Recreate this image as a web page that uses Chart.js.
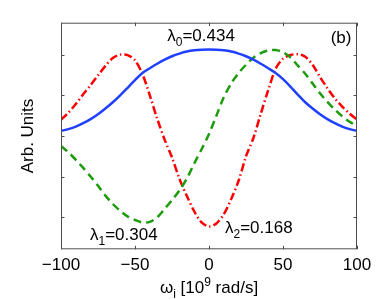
<!DOCTYPE html>
<html>
<head>
<meta charset="utf-8">
<script src="https://cdn.jsdelivr.net/npm/chart.js@4.4.1/dist/chart.umd.min.js"></script>
<style>
  html, body { margin: 0; padding: 0; background: #fff; }
  #wrap { width: 382px; height: 300px; }
</style>
</head>
<body>
<div id="wrap"><canvas id="chart" width="382" height="300"></canvas></div>
<script>
// ==========================
// Data
// ==========================
const omega = [-100, -95, -90, -85, -80, -75, -70, -65, -60, -55, -50, -45, -40, -35, -30, -25, -20, -15, -10, -5,
  0, 5, 10, 15, 20, 25, 30, 35, 40, 45, 50, 55, 60, 65, 70, 75, 80, 85, 90, 95, 100];

// mode 0 (blue, solid)
const mode0 = [0.025, 0.034, 0.046, 0.063, 0.083, 0.107, 0.135, 0.166, 0.2, 0.237, 0.275, 0.31, 0.333, 0.355, 0.375, 0.392, 0.405, 0.415, 0.421, 0.424,
  0.425, 0.424, 0.421, 0.415, 0.405, 0.392, 0.375, 0.355, 0.333, 0.31, 0.28, 0.243, 0.203, 0.166, 0.135, 0.107, 0.083, 0.063, 0.046, 0.034, 0.025];

// mode 1 (green, dashed)
const mode1 = [-0.049, -0.08, -0.117, -0.157, -0.199, -0.245, -0.293, -0.334, -0.368, -0.395, -0.413, -0.425, -0.422, -0.4, -0.358, -0.315, -0.268, -0.21, -0.135, -0.065,
  0.01, 0.1, 0.19, 0.258, 0.31, 0.35, 0.385, 0.408, 0.42, 0.423, 0.412, 0.387, 0.346, 0.306, 0.258, 0.21, 0.168, 0.13, 0.097, 0.07, 0.049];

// mode 2 (red, dash-dot)
const mode2 = [0.08, 0.115, 0.157, 0.205, 0.25, 0.298, 0.345, 0.383, 0.4, 0.398, 0.372, 0.305, 0.2, 0.085, -0.018, -0.105, -0.21, -0.294, -0.37, -0.425,
  -0.445, -0.43, -0.385, -0.31, -0.22, -0.1, -0.01, 0.11, 0.225, 0.33, 0.38, 0.398, 0.402, 0.39, 0.35, 0.29, 0.235, 0.185, 0.145, 0.11, 0.08];

const xTicks = [-100, -50, 0, 50, 100];
const yTicks = [-0.4, -0.2, 0, 0.2, 0.4];

const FONT = "'Liberation Sans', Arial, Helvetica, sans-serif";

function toPoints(ys) {
  return omega.map((x, i) => ({ x: x, y: ys[i] }));
}

// ==========================
// Helper: text with sub/superscript parts
// parts: [text, 'n' | 'sub' | 'sup']
// ==========================
function drawRich(ctx, parts, x, y, size, align) {
  const small = Math.round(size * 0.68);
  let total = 0;
  parts.forEach(p => {
    ctx.font = (p[1] === 'n' ? size : small) + 'px ' + FONT;
    total += ctx.measureText(p[0]).width;
  });
  let cx = align === 'center' ? x - total / 2 : x;
  ctx.textAlign = 'left';
  ctx.textBaseline = 'alphabetic';
  parts.forEach(p => {
    let dy = 0;
    if (p[1] === 'sub') dy = size * 0.3;
    if (p[1] === 'sup') dy = -size * 0.42;
    ctx.font = (p[1] === 'n' ? size : small) + 'px ' + FONT;
    ctx.fillText(p[0], cx, y + dy);
    cx += ctx.measureText(p[0]).width;
  });
}

// ==========================
// Plugin: box, inward ticks, labels
// ==========================
const framePlugin = {
  id: 'frame',
  afterDraw(chart) {
    const ctx = chart.ctx;
    const xs = chart.scales.x;
    const ys = chart.scales.y;
    const a = chart.chartArea;
    const tl = 3.5;
    ctx.save();
    ctx.strokeStyle = '#4d4d4d';
    ctx.lineWidth = 1;
    ctx.strokeRect(a.left + 0.5, a.top + 0.5, a.right - a.left - 1, a.bottom - a.top - 1);
    ctx.beginPath();
    xTicks.forEach(v => {
      const px = Math.round(xs.getPixelForValue(v)) + 0.5;
      ctx.moveTo(px, a.bottom); ctx.lineTo(px, a.bottom - tl);
      ctx.moveTo(px, a.top); ctx.lineTo(px, a.top + tl);
    });
    yTicks.forEach(v => {
      const py = Math.round(ys.getPixelForValue(v)) + 0.5;
      ctx.moveTo(a.left, py); ctx.lineTo(a.left + tl, py);
      ctx.moveTo(a.right, py); ctx.lineTo(a.right - tl, py);
    });
    ctx.stroke();

    ctx.fillStyle = '#000';
    const sz = 17;
    // eigenvalue labels
    drawRich(ctx, [['\u03bb', 'n'], ['0', 'sub'], ['=0.434', 'n']], xs.getPixelForValue(-28.2), ys.getPixelForValue(0.467), sz, 'left');
    drawRich(ctx, [['\u03bb', 'n'], ['1', 'sub'], ['=0.304', 'n']], xs.getPixelForValue(-80.4), ys.getPixelForValue(-0.511), sz, 'left');
    drawRich(ctx, [['\u03bb', 'n'], ['2', 'sub'], ['=0.168', 'n']], xs.getPixelForValue(10.8), ys.getPixelForValue(-0.478), sz, 'left');
    drawRich(ctx, [['(b)', 'n']], xs.getPixelForValue(82.2), ys.getPixelForValue(0.457), sz, 'left');

    // x axis title
    drawRich(ctx, [['\u03c9', 'n'], ['i', 'sub'], [' [10', 'n'], ['9', 'sup'], [' rad/s]', 'n']],
      (a.left + a.right) / 2, 293, sz, 'center');
    ctx.restore();
  }
};

// ==========================
// Chart
// ==========================
new Chart(document.getElementById('chart').getContext('2d'), {
  type: 'line',
  data: {
    datasets: [
      {
        label: 'mode 0',
        data: toPoints(mode0),
        borderColor: '#2040ff',
        borderWidth: 2.5,
        pointRadius: 0,
        tension: 0.3,
        fill: false
      },
      {
        label: 'mode 1',
        data: toPoints(mode1),
        borderColor: '#1c9c0c',
        borderWidth: 2.5,
        borderDash: [8, 5],
        pointRadius: 0,
        tension: 0.3,
        fill: false
      },
      {
        label: 'mode 2',
        data: toPoints(mode2),
        borderColor: '#ff0000',
        borderWidth: 2.5,
        borderDash: [8, 3, 1.5, 3],
        pointRadius: 0,
        tension: 0.3,
        fill: false
      }
    ]
  },
  options: {
    responsive: false,
    animation: false,
    layout: { padding: { left: 14, right: 25, top: 22.7, bottom: 0 } },
    plugins: {
      legend: { display: false },
      tooltip: { enabled: false }
    },
    scales: {
      x: {
        type: 'linear',
        min: -100,
        max: 100,
        afterBuildTicks: s => { s.ticks = xTicks.map(v => ({ value: v })); },
        afterFit: s => { s.height = 50.7; },
        grid: { display: false, drawTicks: false },
        border: { display: false },
        ticks: {
          color: '#000',
          padding: 6,
          maxRotation: 0,
          font: { family: FONT, size: 17 },
          callback: v => (v < 0 ? '\u2212' + Math.abs(v) : String(v))
        }
      },
      y: {
        type: 'linear',
        min: -0.557,
        max: 0.557,
        afterBuildTicks: s => { s.ticks = yTicks.map(v => ({ value: v })); },
        afterFit: s => { s.width = 47; },
        grid: { display: false, drawTicks: false },
        border: { display: false },
        ticks: { display: false },
        title: {
          display: true,
          text: 'Arb. Units',
          color: '#000',
          padding: { top: 4, bottom: 4 },
          font: { family: FONT, size: 17 }
        }
      }
    }
  },
  plugins: [framePlugin]
});
</script>
</body>
</html>
